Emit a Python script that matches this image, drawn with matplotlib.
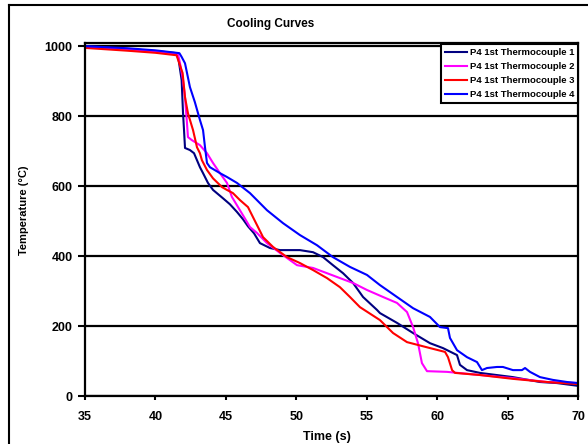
import matplotlib
matplotlib.use('Agg')
import matplotlib.pyplot as plt
from matplotlib.lines import Line2D

plt.rcParams['font.family'] = ['Liberation Sans', 'DejaVu Sans']
plt.rcParams['font.weight'] = 'bold'

# thermocouple 1
t1 = [35, 38, 40, 41.5, 41.65, 41.86, 41.96, 42.03, 42.1, 42.45, 42.74, 42.95, 43.16,
      43.38, 43.73, 44.09, 44.8, 45.29, 45.79, 46.22, 46.57, 47.0, 47.42, 48.13, 48.84,
      50.26, 51.19, 51.9, 52.6, 53.32, 54.03, 54.74, 55.73, 55.94, 57.15, 58.29, 59.49,
      60.41, 61.41, 61.62, 62.12, 63.04, 65.38, 67.3, 68.5, 70]
T1 = [1000, 992, 986, 980, 960, 903, 808, 760, 709, 703, 694, 674, 654,
      637, 609, 589, 565, 548, 526, 505, 485, 465, 437, 423, 417,
      417, 411, 397, 374, 351, 323, 283, 246, 237, 209, 180, 151,
      137, 117, 89, 74, 66, 54, 40, 37, 29]

# thermocouple 2
t2 = [35, 38, 40, 41.6, 41.75, 41.96, 42.1, 42.24, 42.31, 42.6, 43.16, 43.66, 44.09,
      44.58, 45.08, 45.43, 45.79, 46.3, 46.71, 47.21, 47.92, 48.84, 50.05, 51.19, 52.18,
      53.1, 54.03, 55.02, 56.16, 57.15, 57.86, 58.29, 58.64, 58.92, 59.28, 60.7, 63.04,
      65.38, 67.8, 70]
T2 = [998, 991, 985, 978, 950, 903, 854, 780, 740, 731, 717, 694, 666,
      637, 609, 569, 545, 511, 483, 466, 437, 409, 374, 366, 351,
      337, 323, 303, 283, 266, 240, 197, 151, 94, 71, 69, 60,
      51, 40, 37]

# thermocouple 3
t3 = [35, 38, 40, 41.5, 41.93, 42.1, 42.31, 42.67, 42.95, 43.16, 43.3, 43.66, 44.09,
      44.73, 45.08, 45.5, 46.0, 46.57, 46.93, 47.28, 47.64, 48.35, 49.34, 50.26, 51.19,
      52.18, 53.1, 53.81, 54.52, 55.94, 56.87, 57.86, 59.49, 60.56, 60.77, 61.06, 61.27,
      63.04, 65.38, 67.8, 70]
T3 = [995, 987, 981, 974, 923, 854, 808, 760, 711, 694, 674, 646, 622,
      597, 589, 580, 560, 540, 511, 483, 454, 426, 397, 380, 360,
      337, 311, 283, 254, 217, 180, 154, 137, 126, 111, 74, 66,
      60, 49, 40, 34]

# thermocouple 4
t4 = [35, 38, 40, 41.7, 41.85, 42.1, 42.45, 42.8, 43.16, 43.38, 43.52, 43.66, 43.87,
      44.58, 45.08, 45.79, 46.71, 47.92, 49.06, 50.26, 51.47, 52.6, 53.81, 55.02, 55.94,
      57.15, 58.29, 59.49, 60.2, 60.77, 60.91, 61.41, 62.12, 62.83, 63.18, 63.54, 64.25,
      64.67, 65.38, 66.02, 66.24, 66.59, 67.3, 68.22, 69.22, 70]
T4 = [1000, 994, 988, 980, 970, 951, 883, 840, 789, 760, 711, 666, 654,
      637, 626, 609, 580, 531, 494, 460, 431, 397, 369, 346, 317,
      283, 251, 226, 197, 194, 166, 131, 111, 97, 74, 80, 83,
      83, 74, 74, 80, 69, 54, 46, 40, 37]

labels = ['P4 1st Thermocouple 1', 'P4 1st Thermocouple 2',
          'P4 1st Thermocouple 3', 'P4 1st Thermocouple 4']
colors = ['#000080', '#FF00FF', '#FF0000', '#0000FF']

fig = plt.figure(figsize=(5.88, 4.44), dpi=100)
ax = fig.add_axes([85 / 588, 1 - 396 / 444, 493 / 588, 353 / 444])

for t, T, lab, c in zip([t1, t2, t3, t4], [T1, T2, T3, T4], labels, colors):
    ax.plot(t, T, color=c, lw=1.5, label=lab)

ax.set_xlim(35, 70)
ax.set_ylim(0, 1009)
ax.set_xticks(range(35, 71, 5))
ax.set_yticks(range(0, 1001, 200))
ax.yaxis.grid(True, color='black', lw=1.6)
ax.set_axisbelow(True)
for s in ax.spines.values():
    s.set_linewidth(1.6)
ax.tick_params(axis='y', length=5, width=1.5, pad=4, labelsize=9)
ax.tick_params(axis='x', length=3, width=1.5, pad=8, labelsize=9)

fig.text(0.46, 1 - 24 / 444, 'Cooling Curves', ha='center', va='center',
         fontsize=8.5, fontweight='bold')
fig.text(0.04, 1 - 210 / 444, 'Temperature (°C)', rotation=90, ha='center', va='center',
         fontsize=8, fontweight='bold')
fig.text(327 / 588, 1 - 437 / 444, 'Time (s)', ha='center', va='center',
         fontsize=9, fontweight='bold')

leg = ax.legend(loc='upper right', bbox_to_anchor=(1.0, 0.997), fontsize=6.8,
                fancybox=False, framealpha=1, edgecolor='black', borderpad=0.4,
                handlelength=2.3, handletextpad=0.3, labelspacing=0.55,
                borderaxespad=0)
leg.get_frame().set_linewidth(1.5)

# outer chart border
fig.add_artist(Line2D([9 / 588, 9 / 588], [0, 1 - 5 / 444], color='black', lw=1.5))
fig.add_artist(Line2D([9 / 588, 1], [1 - 5 / 444, 1 - 5 / 444], color='black', lw=1.5))

fig.savefig('out.png', dpi=100)
